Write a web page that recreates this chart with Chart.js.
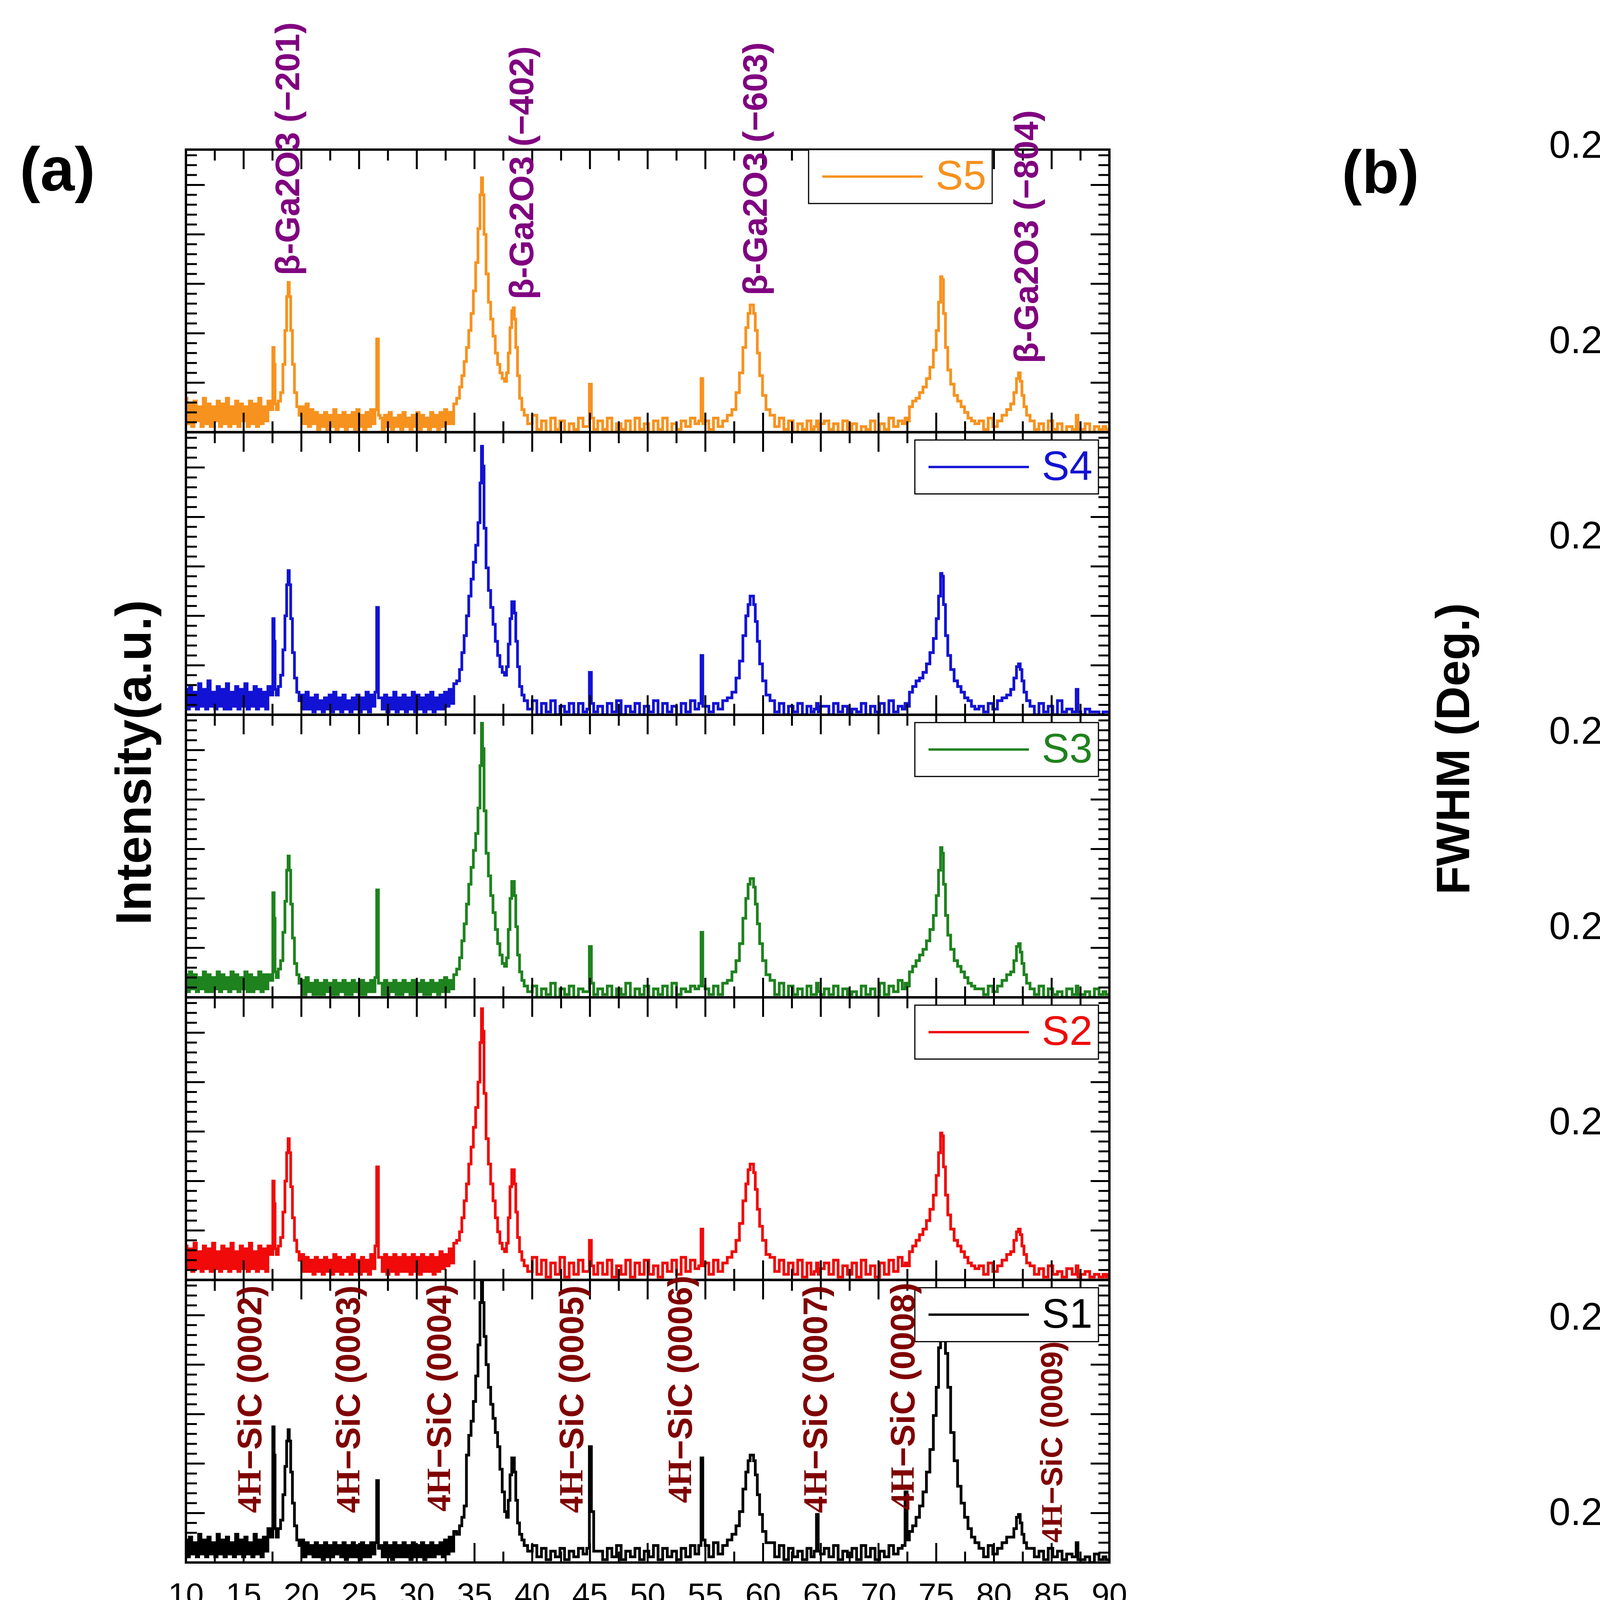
<!DOCTYPE html>
<html lang="en">
<head>
<meta charset="UTF-8" />
<title>XRD of β-Ga2O3 on 4H-SiC and FWHM of (−201)</title>
<script src="https://cdn.jsdelivr.net/npm/chart.js@4.4.1/dist/chart.umd.min.js"></script>
<style>
  * { margin: 0; padding: 0; box-sizing: border-box; }
  body { width: 6878px; height: 4387px; background: #fff; position: relative; overflow: hidden; }
  #xrd { position: absolute; left: 0; top: 0; }
  #fwhm { position: absolute; left: 3100px; top: 0; }
</style>
</head>
<body>
<canvas id="xrd" width="3100" height="4387"></canvas>
<canvas id="fwhm" width="3778" height="4387"></canvas>
<script>
// ---------- panel (a): XRD patterns, 2θ grid shared by all samples ----------
const twoTheta = [
  10.0,10.2,10.4,10.6,10.8,11.0,11.2,11.4,11.6,11.8,12.0,12.2,12.4,12.6,12.8,13.0,13.2,13.4,13.6,13.8,14.0,14.2,14.4,14.6,14.8,15.0,15.2,15.4,15.6,15.8,16.0,16.2,16.4,16.6,16.8,17.0,17.2,
  17.45,17.6,17.68,17.76,17.9,18.1,18.3,18.5,18.65,18.8,18.9,19.0,19.15,19.3,19.5,19.7,19.9,
  20.1,20.3,20.5,20.7,20.9,21.1,21.3,21.5,21.7,21.9,22.1,22.3,22.5,22.7,22.9,23.1,23.3,23.5,23.7,23.9,24.1,24.3,24.5,24.7,24.9,25.1,25.3,25.5,25.7,25.9,26.1,26.3,
  26.45,26.6,26.75,
  26.9,27.1,27.3,27.5,27.7,27.9,28.1,28.3,28.5,28.7,28.9,29.1,29.3,29.5,29.7,29.9,30.1,30.3,30.5,30.7,30.9,31.1,31.3,31.5,31.7,31.9,32.1,32.3,32.5,32.7,32.9,33.1,33.3,
  33.6,33.8,34.0,34.2,34.4,34.6,34.8,35.0,35.2,35.4,35.55,35.65,35.75,35.9,36.1,36.3,36.5,36.7,36.9,37.1,37.3,37.5,37.7,37.85,38.0,38.15,38.3,38.4,38.5,38.65,38.8,39.0,39.2,39.4,
  39.8,40.2,40.6,41.0,41.4,41.8,42.2,42.6,43.0,43.4,43.8,44.2,44.6,
  44.85,45.05,45.2,45.45,
  45.9,46.3,46.7,47.1,47.5,47.9,48.3,48.7,49.1,49.5,49.9,50.3,50.7,51.1,51.5,51.9,52.3,52.7,53.1,53.5,53.9,54.3,
  54.55,54.7,54.85,
  55.1,55.5,55.9,56.3,56.7,57.1,57.5,
  57.8,58.1,58.4,58.6,58.8,58.95,59.1,59.25,59.4,59.6,59.8,60.1,60.4,
  60.8,61.2,61.6,62.0,62.4,62.8,63.2,63.6,64.0,64.3,
  64.55,64.7,64.85,65.1,
  65.5,65.9,66.3,66.7,67.1,67.5,67.9,68.3,68.7,69.1,69.5,69.9,70.3,70.7,71.1,71.5,71.9,
  72.2,72.4,72.55,72.8,73.1,73.4,73.7,74.0,74.3,74.6,74.9,75.1,75.3,75.45,75.55,75.7,75.9,76.1,76.4,76.7,77.0,77.3,77.6,77.9,78.2,78.5,
  78.9,79.3,79.7,80.1,80.5,80.9,81.3,
  81.6,81.85,82.05,82.2,82.35,82.5,82.7,82.95,
  83.3,83.7,84.1,84.5,84.9,85.3,85.7,86.1,86.5,
  87.05,87.2,87.35,
  87.7,88.1,88.5,88.9,89.3,89.6,89.8,90.0
];

// intensities, % of each sample's own panel height
const s5 = [
  12,3,10,2,11,4,9,2,12,3,10,2,9,4,11,2,10,3,12,2,9,3,11,2,10,4,9,2,11,3,10,2,12,3,9,4,11,
  8,30,24,10,8,11,14,24,36,48,53,48,36,24,14,9,6,
  9,3,10,2,8,3,7,1,6,2,7,1,6,2,8,1,6,2,7,1,6,2,7,1,8,2,6,1,7,2,8,3,
  8,33,6,
  5,1,6,2,7,1,5,2,6,1,7,2,5,1,6,2,7,1,6,2,5,1,7,2,6,1,7,2,8,3,7,3,10,
  12,16,20,25,30,36,42,50,60,72,84,90,84,70,56,46,40,34,28,24,21,19,18,21,28,37,43,44,40,30,20,12,8,6,
  3,6,1,4,0,5,1,4,0,3,1,5,2,
  2,17,5,1,
  4,1,5,0,3,1,4,0,5,1,3,0,4,1,5,0,3,1,4,2,5,3,
  4,19,3,
  4,1,5,2,4,6,8,
  14,21,30,37,42,45,45,42,36,28,20,13,8,
  6,2,5,1,4,0,3,1,4,1,
  2,4,1,3,
  4,1,3,0,4,1,3,0,2,1,4,0,3,1,5,2,4,
  3,5,4,9,11,12,14,16,19,23,29,36,46,55,54,42,30,22,17,13,11,9,7,5,4,3,
  4,1,5,2,4,6,8,
  10,14,19,21,18,13,9,6,
  4,1,3,0,4,1,3,0,2,
  1,6,1,
  1,3,0,2,1,2,1,1
];
const s4 = [
  9,2,10,3,8,2,11,3,9,2,12,3,8,2,10,3,9,2,11,2,8,3,10,2,9,3,11,2,8,3,10,2,9,3,8,2,10,
  7,34,26,9,7,10,14,23,35,46,51,46,34,22,13,8,5,
  7,2,8,2,6,1,7,2,5,1,6,2,7,1,8,2,6,1,7,2,5,1,6,2,7,1,6,2,8,1,7,3,
  8,38,6,
  6,2,7,1,6,2,8,1,6,2,7,1,6,2,8,1,7,2,6,1,7,2,8,1,6,2,7,2,8,3,9,4,11,
  12,16,22,28,35,42,48,54,60,68,82,95,88,66,52,44,38,32,26,21,17,15,14,17,25,34,40,40,36,26,17,10,7,5,
  2,5,0,4,1,5,0,3,1,4,0,4,1,
  2,15,4,1,
  3,0,4,1,5,0,3,1,4,0,3,1,5,0,4,1,3,0,4,1,5,2,
  4,21,3,
  3,1,4,2,5,6,8,
  13,19,28,35,39,42,42,39,33,26,18,12,7,
  5,1,4,0,3,1,4,0,3,1,
  2,4,1,3,
  3,0,4,1,3,0,2,1,4,0,3,1,4,0,5,1,3,
  2,4,3,8,10,12,13,15,18,22,27,34,42,50,49,39,28,21,16,12,10,8,6,5,3,2,
  3,1,4,2,5,6,7,
  9,13,17,18,16,12,8,5,
  3,0,4,1,3,0,5,1,2,
  1,9,1,
  0,2,1,1,0,1,1,1
];
const s3 = [
  8,2,9,3,8,2,7,3,9,2,8,2,7,3,9,2,8,3,7,2,9,3,8,2,7,3,9,2,8,2,7,3,9,2,8,3,8,
  6,37,28,9,7,10,13,23,34,45,50,45,33,21,12,8,5,
  6,1,7,2,5,1,6,1,5,1,6,2,5,1,6,1,5,2,6,1,5,1,6,2,5,1,6,1,5,2,6,2,
  7,38,5,
  5,1,6,1,5,2,6,1,5,1,6,2,5,1,6,1,5,2,6,1,5,1,6,2,5,1,6,2,7,2,6,3,8,
  10,14,20,26,33,40,46,52,58,67,82,97,88,66,51,43,36,30,24,19,15,12,11,14,24,35,41,41,36,25,15,9,6,4,
  2,4,0,3,1,5,0,3,1,4,0,3,2,
  2,18,5,1,
  3,1,4,0,3,1,5,0,3,1,4,0,3,1,4,0,5,1,3,2,4,3,
  4,23,4,
  3,1,4,1,5,6,9,
  13,19,28,35,40,42,42,39,33,26,19,13,8,
  6,1,5,0,4,1,3,0,4,1,
  1,5,2,1,
  3,1,4,0,3,1,2,0,4,1,3,0,5,1,4,2,6,
  3,5,4,9,11,13,15,17,20,24,29,36,45,53,51,40,29,22,17,13,11,9,7,5,4,3,
  3,1,4,2,4,6,8,
  9,13,18,19,16,12,8,5,
  3,1,4,0,3,1,2,0,3,
  1,4,1,
  1,2,0,3,1,2,1,1
];
const s2 = [
  12,4,11,3,13,4,10,3,12,4,11,3,13,4,10,3,12,4,11,3,13,4,10,3,12,4,11,3,13,4,10,3,12,4,11,3,12,
  9,35,27,11,9,12,15,24,35,45,50,45,33,22,14,10,7,
  9,3,8,3,7,2,8,3,7,2,8,3,7,2,9,3,8,2,7,3,8,2,9,3,7,2,8,3,7,2,9,4,
  12,40,8,
  8,3,9,2,8,3,9,2,8,3,9,3,8,2,9,3,8,2,9,3,8,3,9,2,8,3,10,4,9,5,11,6,13,
  14,17,22,28,34,41,47,54,61,70,84,96,88,66,50,41,34,28,22,17,13,11,10,13,22,33,39,39,34,24,15,10,7,5,
  3,8,2,7,1,6,2,8,1,6,2,7,3,
  3,14,5,2,
  6,2,7,1,5,2,7,1,6,2,7,2,5,1,6,3,7,2,8,3,7,4,
  5,18,5,
  6,2,7,3,6,8,10,
  14,20,28,34,39,41,41,38,32,25,19,14,9,
  8,3,7,2,6,2,7,1,6,2,
  3,6,2,4,
  6,2,7,1,5,2,6,1,7,2,5,1,6,2,7,3,8,
  5,6,5,10,12,14,16,18,21,25,30,37,45,52,51,40,30,23,18,14,12,10,8,6,5,4,
  5,2,6,3,5,7,9,
  10,14,17,18,16,12,9,6,
  5,2,4,1,5,2,3,1,4,
  2,5,1,
  2,3,1,2,1,2,1,2
];
const s1 = [
  8,2,9,3,7,2,10,3,8,2,9,3,7,2,10,3,8,2,9,3,7,2,10,3,8,2,9,3,7,2,10,3,8,2,9,4,12,
  9,48,38,12,9,12,15,24,34,43,47,43,32,21,13,8,6,
  8,2,7,3,6,2,7,2,6,1,7,2,6,2,7,3,6,2,7,1,6,2,7,2,6,1,7,2,6,2,7,3,
  7,29,5,
  6,2,7,2,6,1,7,2,6,2,7,2,6,1,7,2,6,2,7,1,6,2,7,2,6,3,7,2,8,3,9,4,11,
  10,13,16,20,38,45,50,57,66,77,92,100,92,80,70,62,56,51,46,41,33,25,18,16,22,31,37,37,32,22,14,10,8,6,
  4,6,2,5,1,4,2,5,1,4,2,5,3,
  5,41,18,4,
  4,1,5,2,6,1,4,2,5,1,4,2,6,1,5,2,4,1,5,2,6,3,
  6,37,8,
  6,2,7,3,6,8,10,
  13,18,26,32,36,38,38,36,31,24,17,11,7,
  7,2,6,1,5,2,4,1,5,2,
  4,17,4,3,
  5,2,6,1,4,2,5,1,6,2,5,1,4,2,6,3,5,
  6,25,8,11,13,16,20,25,32,40,52,62,76,92,96,82,74,62,46,36,27,21,16,12,9,7,
  5,2,6,3,5,7,9,
  9,12,16,17,14,10,7,5,
  5,2,4,1,5,2,4,1,3,
  2,7,1,
  1,2,0,3,1,2,1,1
];

// peak annotations (2θ of the label, foot of the label in % of its panel)
const gaLabels = ['β-Ga2O3 (−201)', 'β-Ga2O3 (−402)', 'β-Ga2O3 (−603)', 'β-Ga2O3 (−804)'];
const gaLabelAt = [19.0, 39.26, 59.5, 82.98];
const gaLabelFoot = [55.5, 47, 48.4, 24.4];
const sicLabels = ['(0002)', '(0003)', '(0004)', '(0005)', '(0006)', '(0007)', '(0008)', '(0009)'];
const sicLabelAt = [15.72, 24.25, 32.13, 43.6, 53.0, 64.73, 72.3, 85.2];
const sicLabelFoot = [17.5, 17.5, 18, 17.5, 21, 17.5, 18.5, 7];

// ---------- panel (b): FWHM of the (−201) reflection ----------
const sampleIds = ['S1', 'S2', 'S3', 'S4', 'S5'];
const fwhm = [0.2617, 0.2478, 0.2428, 0.2409, 0.2335];

const SANS = "'Liberation Sans', Arial, sans-serif";
const SERIF = "'Liberation Serif', 'Times New Roman', serif";
const PURPLE = 'rgb(128,0,128)';
const MAROON = 'rgb(128,0,0)';

const xrdSeries = [
  { id: 'S1', data: s1, color: '#000000' },
  { id: 'S2', data: s2, color: 'rgb(240,10,10)' },
  { id: 'S3', data: s3, color: 'rgb(30,130,30)' },
  { id: 'S4', data: s4, color: 'rgb(18,18,212)' },
  { id: 'S5', data: s5, color: 'rgb(247,146,30)' },
];
xrdSeries.forEach(s => {
  if (s.data.length !== twoTheta.length) {
    throw new Error(s.id + ' has ' + s.data.length + ' points, grid has ' + twoTheta.length);
  }
});

function vText(ctx, x, y, parts) {
  // text running bottom-to-top, starting at (x, y)
  ctx.save();
  ctx.translate(x, y);
  ctx.rotate(-Math.PI / 2);
  ctx.textAlign = 'left';
  ctx.textBaseline = 'middle';
  let off = 0;
  parts.forEach(p => {
    ctx.font = p.font;
    ctx.fillStyle = p.color;
    ctx.fillText(p.text, off, 0);
    off += ctx.measureText(p.text).width;
  });
  ctx.restore();
}

function centerText(ctx, text, x, y, font, rotate) {
  ctx.save();
  ctx.translate(x, y);
  if (rotate) ctx.rotate(-Math.PI / 2);
  ctx.font = font;
  ctx.fillStyle = '#000';
  ctx.textAlign = 'center';
  ctx.textBaseline = 'middle';
  ctx.fillText(text, 0, 0);
  ctx.restore();
}

const xrdDecor = {
  id: 'xrdDecor',
  afterDraw(chart) {
    const { ctx, chartArea: a, scales } = chart;
    const xs = scales.x;
    ctx.save();
    xrdSeries.forEach(s => {
      const ys = scales['y' + s.id];
      const top = ys.top, bot = ys.bottom;
      ctx.strokeStyle = '#000';
      ctx.lineWidth = 5;
      ctx.beginPath();
      for (let i = 0; i <= 32; i++) {
        const px = xs.getPixelForValue(10 + i * 2.5);
        const len = i % 2 === 0 ? 50 : 28;
        ctx.moveTo(px, top); ctx.lineTo(px, top + len);
        ctx.moveTo(px, bot); ctx.lineTo(px, bot - len);
      }
      for (let i = 0; i * 3.5 <= 100; i++) {
        const py = ys.getPixelForValue(i * 3.5);
        const len = i % 5 === 0 ? 48 : 28;
        ctx.moveTo(a.left, py); ctx.lineTo(a.left + len, py);
        ctx.moveTo(a.right, py); ctx.lineTo(a.right - len, py);
      }
      ctx.stroke();
      ctx.lineWidth = 6;
      ctx.strokeRect(a.left, top, a.right - a.left, bot - top);

      // legend box of this panel
      const bw = 470, bh = 138;
      const bl = (s.id === 'S5' ? a.right - 300 : a.right - 28) - bw;
      const bt = top + (s.id === 'S5' ? 0 : 20);
      ctx.fillStyle = '#fff';
      ctx.fillRect(bl, bt, bw, bh);
      ctx.lineWidth = 3;
      ctx.strokeStyle = '#000';
      ctx.strokeRect(bl, bt, bw, bh);
      ctx.strokeStyle = s.color;
      ctx.lineWidth = 6;
      ctx.beginPath();
      ctx.moveTo(bl + 35, bt + bh / 2);
      ctx.lineTo(bl + 292, bt + bh / 2);
      ctx.stroke();
      ctx.fillStyle = s.color;
      ctx.font = `106px ${SANS}`;
      ctx.textAlign = 'left';
      ctx.textBaseline = 'middle';
      ctx.fillText(s.id, bl + 325, bt + bh / 2 + 4);
    });

    const y5 = scales.yS5, y1 = scales.yS1;
    gaLabels.forEach((t, i) => {
      vText(ctx, xs.getPixelForValue(gaLabelAt[i]), y5.getPixelForValue(gaLabelFoot[i]),
        [{ text: t, font: `bold 88px ${SANS}`, color: PURPLE }]);
    });
    sicLabels.forEach((t, i) => {
      const size = i === 7 ? 77 : 87;
      vText(ctx, xs.getPixelForValue(sicLabelAt[i]), y1.getPixelForValue(sicLabelFoot[i]), [
        { text: '4H', font: `bold ${size}px ${SERIF}`, color: MAROON },
        { text: '−SiC ' + t, font: `bold ${size}px ${SANS}`, color: MAROON },
      ]);
    });

    centerText(ctx, '(a)', 147, 443, `bold 158px ${SANS}`);
    centerText(ctx, 'Intensity(a.u.)', 351, 1952, `bold 128px ${SANS}`, true);
    centerText(ctx, '2θ (degree)', 1509, 4265, `bold 106px ${SERIF}`);
    ctx.restore();
  }
};

const xrdScales = {
  x: {
    type: 'linear', position: 'bottom', min: 10, max: 90,
    ticks: { stepSize: 5, autoSkip: false, maxRotation: 0, padding: 38, color: '#000',
             font: { family: SANS, size: 82 } },
    grid: { display: false, drawTicks: false },
    border: { display: false },
    afterFit: s => { s.height = 387; }
  }
};
xrdSeries.forEach(s => {
  xrdScales['y' + s.id] = {
    type: 'linear', position: 'left', stack: 'xrd', stackWeight: 1, min: 0, max: 100,
    ticks: { display: false },
    grid: { display: false, drawTicks: false },
    border: { display: false },
    afterFit: sc => { sc.width = 0; }
  };
});

new Chart(document.getElementById('xrd'), {
  type: 'line',
  data: {
    datasets: xrdSeries.map(s => ({
      label: s.id,
      xAxisID: 'x',
      yAxisID: 'y' + s.id,
      data: twoTheta.map((t, i) => ({ x: t, y: s.data[i] })),
      borderColor: s.color,
      borderWidth: 7,
      stepped: 'middle',
      pointRadius: 0,
      fill: false,
    }))
  },
  options: {
    responsive: false,
    devicePixelRatio: 1,
    animation: false,
    events: [],
    layout: { padding: { left: 476, right: 260, top: 383, bottom: 0 } },
    scales: xrdScales,
    plugins: { legend: { display: false }, tooltip: { enabled: false } }
  },
  plugins: [xrdDecor]
});

// ---------- panel (b) ----------
const fwhmDecor = {
  id: 'fwhmDecor',
  afterDraw(chart) {
    const { ctx, chartArea: a, scales: { x } } = chart;
    ctx.save();
    ctx.strokeStyle = '#000';
    ctx.lineWidth = 6;
    ctx.strokeRect(a.left, a.top, a.right - a.left, a.bottom - a.top);
    ctx.beginPath();
    sampleIds.forEach((_, i) => {
      const px = x.getPixelForValue(i);
      ctx.moveTo(px, a.bottom); ctx.lineTo(px, a.bottom + 53);
    });
    for (let i = 0; i <= sampleIds.length; i++) {
      const px = x.getPixelForValue(i - 0.5);
      ctx.moveTo(px, a.bottom); ctx.lineTo(px, a.bottom + 29);
    }
    ctx.stroke();

    // title with subscripts
    const big = `bold 157px ${SANS}`, small = `bold 100px ${SANS}`;
    const parts = [['FWHM of (−201) β-Ga', big, 0], ['2', small, 38], ['O', big, 0], ['3', small, 38]];
    ctx.fillStyle = '#000';
    ctx.textAlign = 'left';
    ctx.textBaseline = 'alphabetic';
    let xx = 1820;
    parts.forEach(([t, f, dy]) => {
      ctx.font = f;
      ctx.fillText(t, xx, 620 + dy);
      xx += ctx.measureText(t).width;
    });

    centerText(ctx, '(b)', 434, 451, `bold 155px ${SANS}`);
    centerText(ctx, 'FWHM (Deg.)', 628, 1917, `bold 120px ${SANS}`, true);
    centerText(ctx, 'Sample ID', 2483, 4241, `bold 157px ${SANS}`);
    ctx.restore();
  }
};

new Chart(document.getElementById('fwhm'), {
  type: 'line',
  data: {
    labels: sampleIds,
    datasets: [{
      label: 'FWHM',
      data: fwhm,
      borderColor: 'rgb(20,20,220)',
      borderWidth: 12,
      pointStyle: 'rectRot',
      pointRadius: 53,
      pointBackgroundColor: 'rgb(128,128,0)',
      pointBorderColor: 'rgb(128,128,0)',
      pointBorderWidth: 1,
      tension: 0,
      clip: false,
    }]
  },
  options: {
    responsive: false,
    devicePixelRatio: 1,
    animation: false,
    events: [],
    layout: { padding: { left: 0, right: 71, top: 377, bottom: 0 } },
    scales: {
      x: {
        type: 'category', offset: true,
        ticks: { color: '#000', padding: 90, font: { family: SANS, size: 130, weight: 'bold' } },
        grid: { display: false, drawTicks: false },
        border: { display: false },
        afterFit: s => { s.height = 510; }
      },
      y: {
        min: 0.230, max: 0.265,
        ticks: { stepSize: 0.005, color: '#000', padding: 65, callback: v => v.toFixed(3),
                 font: { family: SANS, size: 98 } },
        grid: { display: false, drawTicks: false },
        border: { display: false },
        afterFit: s => { s.width = 1176; }
      }
    },
    plugins: { legend: { display: false }, tooltip: { enabled: false } }
  },
  plugins: [fwhmDecor]
});
</script>
</body>
</html>
